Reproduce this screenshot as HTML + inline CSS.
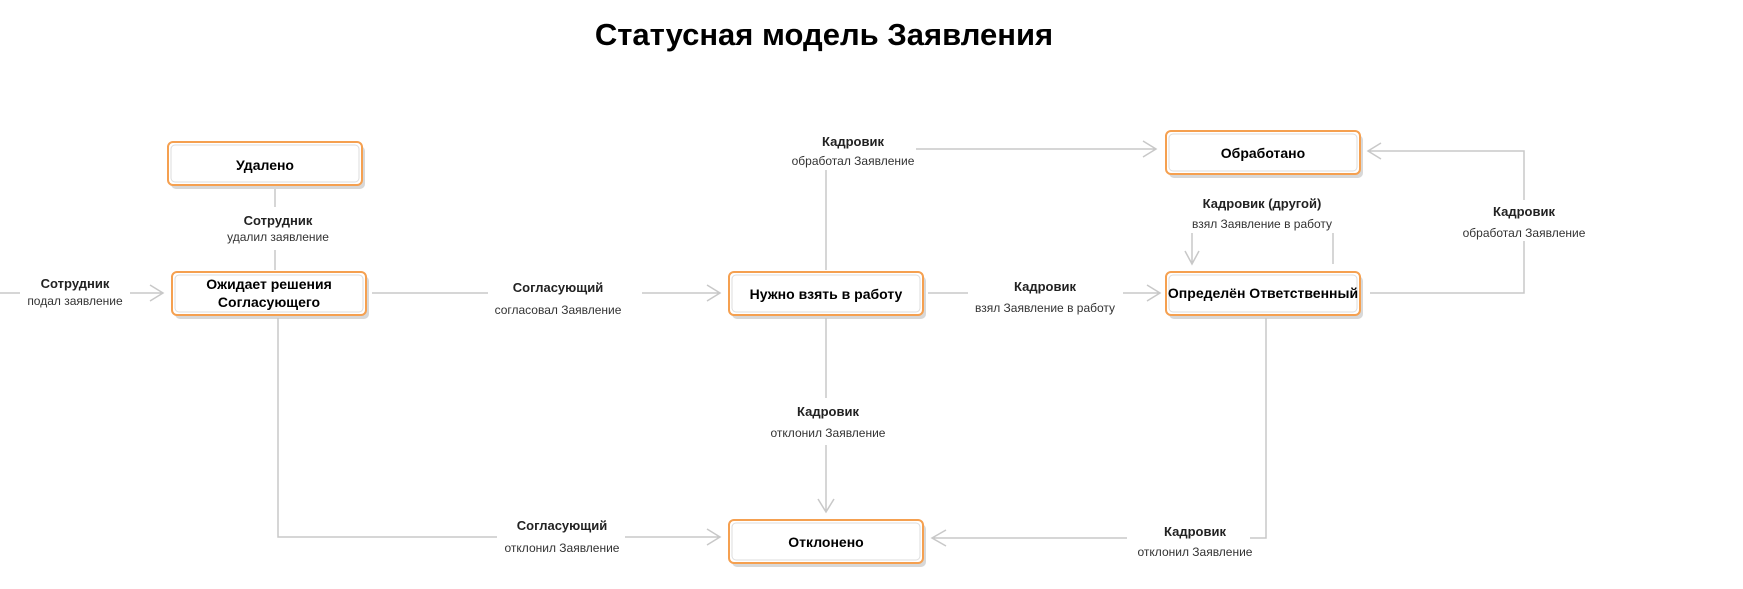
<!DOCTYPE html>
<html><head><meta charset="utf-8"><style>
html,body{margin:0;padding:0;background:#fff;}
svg{display:block;}
text{font-family:"Liberation Sans","DejaVu Sans",sans-serif;}
.t1{font-size:13px;font-weight:bold;fill:#222;}
.t2{font-size:12px;fill:#333;}
.bx{font-size:14px;font-weight:bold;fill:#000;}
.ln{stroke:#c8c8c8;stroke-width:1.5;fill:none;}
</style></head><body>
<svg width="1743" height="589" viewBox="0 0 1743 589" xmlns="http://www.w3.org/2000/svg">
<defs>
<g id="box"><rect x="3" y="4" width="194" height="43" rx="5" fill="#d8d8d8"/><rect x="0" y="0" width="194" height="43" rx="5" fill="#fff" stroke="#f5a050" stroke-width="2"/><rect x="3" y="3" width="188" height="37" rx="4" fill="none" stroke="#ddd" stroke-width="1"/></g>
</defs>
<text x="824" y="45" text-anchor="middle" font-size="31" font-weight="bold" fill="#000" style="font-family:'Liberation Sans',sans-serif">Статусная модель Заявления</text>

<!-- boxes -->
<use href="#box" x="168" y="142"/><text class="bx" x="265" y="170" text-anchor="middle">Удалено</text>
<use href="#box" x="172" y="272"/><text class="bx" x="269" y="289" text-anchor="middle">Ожидает решения</text><text class="bx" x="269" y="307" text-anchor="middle">Согласующего</text>
<use href="#box" x="729" y="272"/><text class="bx" x="826" y="299" text-anchor="middle">Нужно взять в работу</text>
<use href="#box" x="1166" y="131"/><text class="bx" x="1263" y="158" text-anchor="middle">Обработано</text>
<use href="#box" x="1166" y="272"/><text class="bx" x="1263" y="298" text-anchor="middle" font-size="12.5">Определён Ответственный</text>
<use href="#box" x="729" y="520"/><text class="bx" x="826" y="547" text-anchor="middle">Отклонено</text>

<!-- left incoming -->
<path class="ln" d="M0 293 H20 M130 293 H163 M150 285 L163 293 L150 301"/>
<text class="t1" x="75" y="288" text-anchor="middle">Сотрудник</text>
<text class="t2" x="75" y="305" text-anchor="middle">подал заявление</text>

<!-- удалено -->
<path class="ln" d="M275 189 V207 M275 250 V270"/>
<text class="t1" x="278" y="225" text-anchor="middle">Сотрудник</text>
<text class="t2" x="278" y="241" text-anchor="middle">удалил заявление</text>

<!-- ожидает -> нужно -->
<path class="ln" d="M372 293 H488 M642 293 H720 M707 285 L720 293 L707 301"/>
<text class="t1" x="558" y="292" text-anchor="middle">Согласующий</text>
<text class="t2" x="558" y="314" text-anchor="middle">согласовал Заявление</text>

<!-- нужно -> обработано -->
<path class="ln" d="M826 270 V170 M916 149 H1156 M1143 141 L1156 149 L1143 157"/>
<text class="t1" x="853" y="146" text-anchor="middle">Кадровик</text>
<text class="t2" x="853" y="165" text-anchor="middle">обработал Заявление</text>

<!-- нужно -> определён -->
<path class="ln" d="M928 293 H968 M1123 293 H1160 M1147 285 L1160 293 L1147 301"/>
<text class="t1" x="1045" y="291" text-anchor="middle">Кадровик</text>
<text class="t2" x="1045" y="312" text-anchor="middle">взял Заявление в работу</text>

<!-- нужно -> отклонено -->
<path class="ln" d="M826 318 V398 M826 445 V512 M818 499 L826 512 L834 499"/>
<text class="t1" x="828" y="416" text-anchor="middle">Кадровик</text>
<text class="t2" x="828" y="437" text-anchor="middle">отклонил Заявление</text>

<!-- ожидает -> отклонено -->
<path class="ln" d="M278 318 V537 H497 M625 537 H720 M707 529 L720 537 L707 545"/>
<text class="t1" x="562" y="530" text-anchor="middle">Согласующий</text>
<text class="t2" x="562" y="552" text-anchor="middle">отклонил Заявление</text>

<!-- определён -> отклонено -->
<path class="ln" d="M1266 318 V538 H1250 M1127 538 H932 M946 530 L932 538 L946 546"/>
<text class="t1" x="1195" y="536" text-anchor="middle">Кадровик</text>
<text class="t2" x="1195" y="556" text-anchor="middle">отклонил Заявление</text>

<!-- определён -> обработано (right loop) -->
<path class="ln" d="M1370 293 H1524 V241 M1524 200 V151 H1368 M1381 143 L1368 151 L1381 159"/>
<text class="t1" x="1524" y="216" text-anchor="middle">Кадровик</text>
<text class="t2" x="1524" y="237" text-anchor="middle">обработал Заявление</text>

<!-- кадровик (другой) -->
<path class="ln" d="M1192 233 V264 M1185 251 L1192 264 L1199 251 M1333 233 V264"/>
<text class="t1" x="1262" y="208" text-anchor="middle">Кадровик (другой)</text>
<text class="t2" x="1262" y="228" text-anchor="middle">взял Заявление в работу</text>
</svg>
</body></html>
